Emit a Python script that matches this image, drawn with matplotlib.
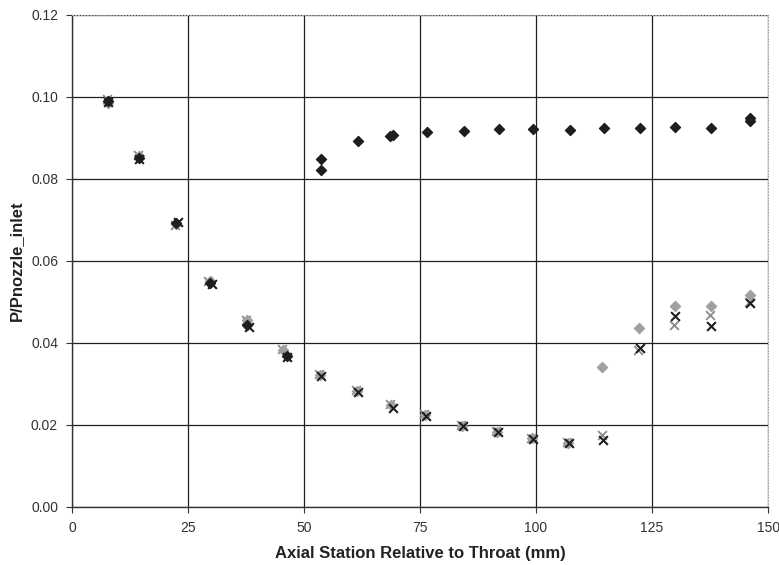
import matplotlib.pyplot as plt
from matplotlib.ticker import FormatStrFormatter

plt.rcParams['font.family'] = ['Liberation Sans Narrow', 'Liberation Sans', 'DejaVu Sans']

# pressure taps, one set of readings per run
x_dark_diamond = [7.8, 14.4, 22.4, 29.7, 37.7, 46.3, 53.6, 53.6, 61.7, 68.5, 69.2, 76.4,
                  84.5, 92.1, 99.4, 107.3, 114.7, 122.4, 130.0, 137.7, 146.1, 146.1]
y_dark_diamond = [0.0990, 0.0852, 0.0692, 0.0547, 0.0443, 0.0368, 0.0848, 0.0821, 0.0893,
                  0.0906, 0.0907, 0.0915, 0.0917, 0.0921, 0.0922, 0.0920, 0.0924, 0.0925,
                  0.0927, 0.0925, 0.0949, 0.0941]

x_gray_diamond = [7.8, 14.4, 22.4, 29.7, 37.7, 45.5, 53.4, 61.4, 68.8, 76.0, 84.0, 91.6,
                  99.1, 106.8, 114.3, 122.2, 130.0, 137.7, 146.1]
y_gray_diamond = [0.0985, 0.0856, 0.0689, 0.0550, 0.0455, 0.0384, 0.0322, 0.0284, 0.0248,
                  0.0225, 0.0198, 0.0184, 0.0168, 0.0157, 0.0341, 0.0437, 0.0489, 0.0490,
                  0.0517]

x_dark_x = [7.8, 14.4, 22.9, 30.1, 38.2, 46.3, 53.6, 61.7, 69.2, 76.2, 84.3, 91.9,
            99.4, 107.0, 114.4, 122.4, 130.0, 137.7, 146.1]
y_dark_x = [0.0988, 0.0848, 0.0695, 0.0543, 0.0440, 0.0366, 0.0320, 0.0281, 0.0242,
            0.0223, 0.0197, 0.0182, 0.0167, 0.0156, 0.0163, 0.0387, 0.0466, 0.0441,
            0.0497]

x_gray_x = [7.6, 14.2, 22.1, 29.4, 37.5, 45.3, 53.2, 61.2, 68.6, 75.8, 83.8, 91.4,
            98.9, 106.6, 114.2, 122.0, 129.8, 137.5, 145.9]
y_gray_x = [0.0994, 0.0858, 0.0688, 0.0551, 0.0457, 0.0386, 0.0324, 0.0285, 0.0250,
            0.0226, 0.0200, 0.0185, 0.0169, 0.0158, 0.0176, 0.0384, 0.0444, 0.0468,
            0.0501]

fig = plt.figure(figsize=(7.79, 5.65), dpi=100)
ax = fig.add_axes([0.0924, 0.1027, 0.8936, 0.8708])

ax.scatter(x_gray_x, y_gray_x, marker='x', s=40, color='#8a8a8a', linewidths=1.3, zorder=3)
ax.scatter(x_gray_diamond, y_gray_diamond, marker='D', s=26, color='#a0a0a0', zorder=4)
ax.scatter(x_dark_x, y_dark_x, marker='x', s=40, color='#1e1e1e', linewidths=1.5, zorder=5)
ax.scatter(x_dark_diamond, y_dark_diamond, marker='D', s=26, color='#1e1e1e', zorder=6)

ax.set_xlim(0, 150)
ax.set_ylim(0, 0.12)
ax.set_xticks([0, 25, 50, 75, 100, 125, 150])
ax.set_yticks([0, 0.02, 0.04, 0.06, 0.08, 0.10, 0.12])
ax.yaxis.set_major_formatter(FormatStrFormatter('%.2f'))

ax.grid(True, color='#202020', linewidth=0.9)
ax.set_axisbelow(True)
ax.tick_params(direction='out', length=4, color='#333333', labelsize=10,
               labelcolor='#333333', pad=6)

for side in ['left', 'bottom']:
    ax.spines[side].set_color('#333333')
    ax.spines[side].set_linewidth(1.0)
for side in ['top', 'right']:
    ax.spines[side].set_color('#aaaaaa')
    ax.spines[side].set_linestyle(':')
    ax.spines[side].set_linewidth(0.8)

ax.set_xlabel('Axial Station Relative to Throat (mm)', fontsize=12, fontweight='bold',
              color='#222222', labelpad=8)
ax.set_ylabel('P/Pnozzle_inlet', fontsize=12, fontweight='bold', color='#222222',
              labelpad=5)

fig.savefig('out.png', dpi=100)
